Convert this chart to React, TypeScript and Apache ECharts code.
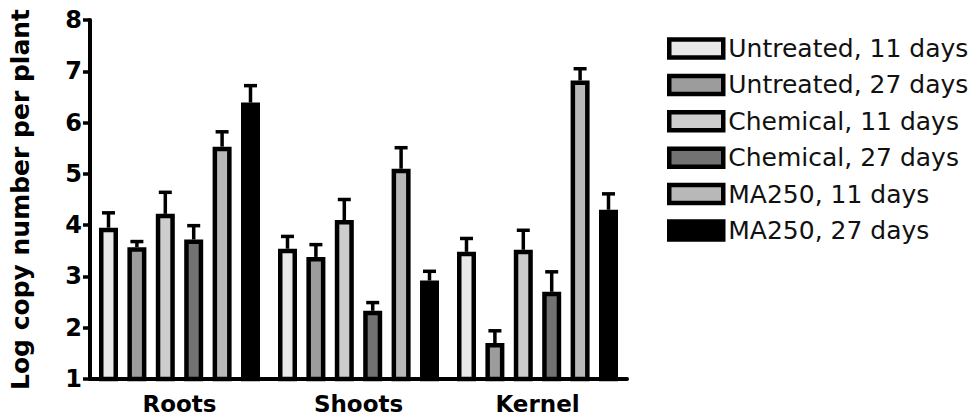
import React, { useEffect, useRef } from "react";
import * as echarts from "echarts";

const categories = ["Roots", "Shoots", "Kernel"];
const seriesNames = [
  "Untreated, 11 days",
  "Untreated, 27 days",
  "Chemical, 11 days",
  "Chemical, 27 days",
  "MA250, 11 days",
  "MA250, 27 days",
];
const untreated11 = [3.95, 3.54, 3.48];
const untreated27 = [3.57, 3.38, 1.7];
const chemical11 = [4.22, 4.1, 3.52];
const chemical27 = [3.72, 2.33, 2.7];
const ma250d11 = [5.53, 5.1, 6.82];
const ma250d27 = [6.39, 2.92, 4.3];

const untreated11Err = [0.29, 0.24, 0.26];
const untreated27Err = [0.11, 0.24, 0.24];
const chemical11Err = [0.42, 0.4, 0.38];
const chemical27Err = [0.27, 0.16, 0.39];
const ma250d11Err = [0.29, 0.41, 0.23];
const ma250d27Err = [0.33, 0.18, 0.31];

const yTicks = [1, 2, 3, 4, 5, 6, 7, 8];

const values = [untreated11, untreated27, chemical11, chemical27, ma250d11, ma250d27];
const errors = [untreated11Err, untreated27Err, chemical11Err, chemical27Err, ma250d11Err, ma250d27Err];
const fills = ["#e9e9e9", "#9c9c9c", "#cdcdcd", "#727272", "#b8b8b8", "#000000"];

const BAR_W = 19;
const GAP = 9.4;
const BORDER = 4.5;

export default function App() {
  const ref = useRef<HTMLDivElement>(null);
  useEffect(() => {
    if (!ref.current) return;
    const chart = echarts.init(ref.current, undefined, { renderer: "svg" });
    const n = values.length;
    const total = n * BAR_W + (n - 1) * GAP;
    const barSeries = values.map((v, i) => ({
      type: "bar",
      name: seriesNames[i],
      data: v,
      barWidth: BAR_W,
      barGap: (GAP / BAR_W) * 100 + "%",
      itemStyle: { color: fills[i], borderColor: "#000", borderWidth: BORDER },
      z: 2,
    }));
    const errSeries = values.map((v, i) => {
      const offset = -total / 2 + BAR_W / 2 + i * (BAR_W + GAP);
      return {
        type: "custom",
        coordinateSystem: "cartesian2d",
        data: v.map((val, c) => [c, val, val + errors[i][c]]),
        encode: { x: 0, y: [1, 2] },
        z: 3,
        renderItem: (params: any, api: any) => {
          const c = api.value(0);
          const p0 = api.coord([c, api.value(1)]);
          const p1 = api.coord([c, api.value(2)]);
          const x = p0[0] + offset;
          return {
            type: "group",
            children: [
              { type: "line", shape: { x1: x, y1: p0[1], x2: x, y2: p1[1] }, style: { stroke: "#000", lineWidth: 3.5 } },
              { type: "line", shape: { x1: x - 6.5, y1: p1[1], x2: x + 6.5, y2: p1[1] }, style: { stroke: "#000", lineWidth: 3.5 } },
            ],
          };
        },
      };
    });
    chart.setOption({
      animation: false,
      backgroundColor: "#fff",
      grid: { left: 78, right: 347, top: 20, bottom: 40, containLabel: false },
      legend: {
        data: seriesNames,
        orient: "vertical",
        left: 662,
        top: 31,
        itemWidth: 54,
        itemHeight: 18,
        itemGap: 11.4,
        icon: "rect",
        itemStyle: { borderColor: "#000", borderWidth: 4.5 },
        textStyle: { fontFamily: "DejaVu Sans", fontSize: 25, color: "#111", lineHeight: 25 },
      },
      xAxis: {
        type: "category",
        data: categories,
        axisLine: { lineStyle: { color: "#000", width: 4 } },
        axisTick: { alignWithLabel: true, length: 8, lineStyle: { color: "#000", width: 4 } },
        axisLabel: { fontFamily: "DejaVu Sans", fontWeight: "bold", fontSize: 23, color: "#000", margin: 13 },
      },
      yAxis: {
        type: "value",
        min: yTicks[0],
        max: yTicks[yTicks.length - 1],
        interval: 1,
        splitLine: { show: false },
        axisLine: { show: true, onZero: false, lineStyle: { color: "#000", width: 4 } },
        axisTick: { show: true, length: 7, lineStyle: { color: "#000", width: 3.5 } },
        axisLabel: { fontFamily: "DejaVu Sans", fontWeight: "bold", fontSize: 24, color: "#000", margin: 8 },
        name: "Log copy number per plant",
        nameLocation: "middle",
        nameRotate: 90,
        nameGap: 57,
        nameTextStyle: { fontFamily: "DejaVu Sans", fontWeight: "bold", fontSize: 25, color: "#000" },
      },
      series: [...barSeries, ...errSeries],
    });
    return () => chart.dispose();
  }, []);
  return <div ref={ref} style={{ position: "fixed", left: 0, top: 0, width: 974, height: 419, background: "#fff" }} />;
}
